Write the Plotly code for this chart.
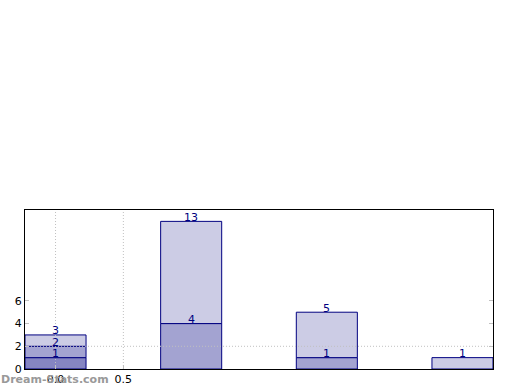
import plotly.graph_objects as go

categories = [0, 1, 2, 3]
series_a = [1, 0, 0, 0]
series_b = [1, 4, 1, 0]
series_c = [1, 9, 4, 1]
colors = ["#8585c2", "#a3a3d1", "#ccccE5"]
x_ticks = [0.0, 0.5]
x_tick_labels = ["0.0", "0.5"]
y_ticks = [0, 2, 4, 6]

fig = go.Figure()
cum = [0, 0, 0, 0]
annotations = []
for vals, col in zip([series_a, series_b, series_c], colors):
    xs = [c for c, v in zip(categories, vals) if v > 0]
    ys = [v for v in vals if v > 0]
    bases = [cum[i] for i, v in enumerate(vals) if v > 0]
    fig.add_trace(go.Bar(x=xs, y=ys, base=bases, width=0.45,
                         marker=dict(color=col, line=dict(color="#000080", width=1)),
                         showlegend=False))
    for i, v in enumerate(vals):
        if v > 0:
            cum[i] += v
            annotations.append(dict(x=categories[i], y=cum[i], text=str(cum[i]),
                                    showarrow=False, yshift=4,
                                    font=dict(color="#000080", size=11, family="DejaVu Sans")))

annotations.append(dict(xref="paper", yref="paper", x=0, y=0, xanchor="left", yanchor="top",
                        xshift=-26, yshift=-2, text="<b>Dream-Stats.com</b>", showarrow=False,
                        font=dict(color="#999999", size=11, family="DejaVu Sans")))

grid_line = dict(color="#c0c0c0", width=1, dash="1px,2px")
shapes = [dict(type="line", xref="paper", yref="y", x0=0, x1=1, y0=2, y1=2,
               line=grid_line, layer="above")]
for xv in x_ticks:
    shapes.append(dict(type="line", xref="x", yref="paper", x0=xv, x1=xv, y0=0, y1=1,
                       line=grid_line, layer="above"))

fig.update_layout(
    width=520, height=390,
    margin=dict(l=25, r=27, t=210, b=21, autoexpand=False),
    plot_bgcolor="white", paper_bgcolor="white",
    barmode="overlay",
    annotations=annotations, shapes=shapes,
    font=dict(family="DejaVu Sans", size=11, color="black"),
    xaxis=dict(range=[-0.225, 3.225], tickvals=x_ticks, ticktext=x_tick_labels,
               showgrid=False, zeroline=False, showline=True, linecolor="black", linewidth=1,
               mirror=True, ticks="inside", tickcolor="#c0c0c0", ticklen=4, automargin=False),
    yaxis=dict(range=[0, 14], tickvals=y_ticks, showgrid=False, zeroline=False,
               showline=True, linecolor="black", linewidth=1, mirror="ticks",
               ticks="inside", tickcolor="#c0c0c0", ticklen=4, automargin=False),
)
fig.write_html("out.html", config={"displayModeBar": False},
               post_script="document.body.style.margin='0';document.body.style.overflow='hidden';")
